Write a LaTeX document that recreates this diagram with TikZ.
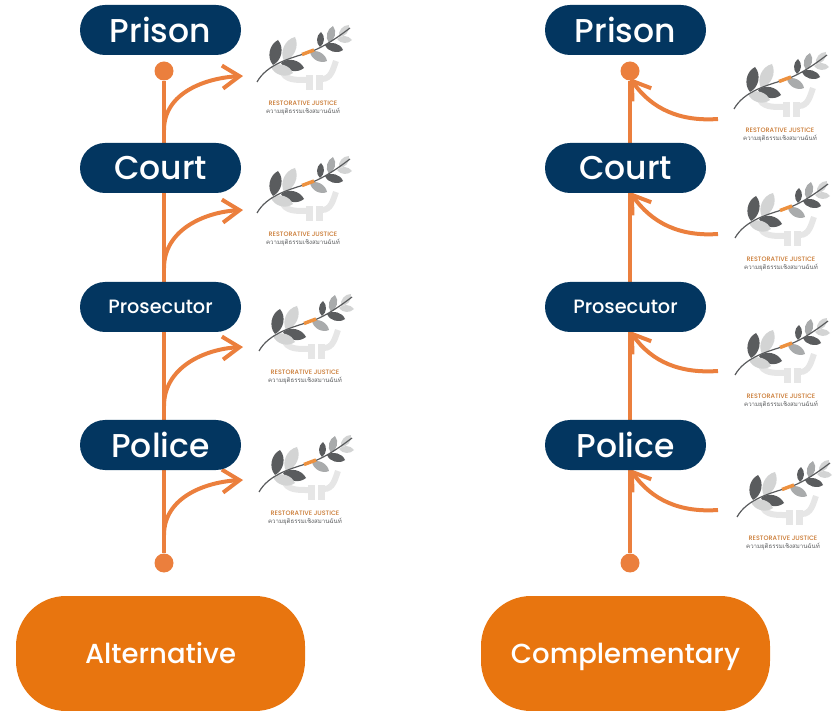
\documentclass[tikz,border=0pt]{standalone}
\usepackage{fontspec}
\setmainfont{Poppins Medium}
\newfontfamily\thaifont[Script=Thai]{Loma}
\usetikzlibrary{arrows.meta}
\definecolor{my-navy}{HTML}{033660}
\definecolor{my-orange}{HTML}{E8750F}
\definecolor{my-line}{HTML}{EB7F3D}
\definecolor{my-dark}{HTML}{5A5C5E}
\definecolor{my-mid}{HTML}{A9ABAC}
\definecolor{my-light}{HTML}{D3D4D4}
\definecolor{my-hand}{HTML}{E6E6E6}
\tikzset{
  stage/.style={fill=my-navy, text=white, rounded corners=25pt, minimum width=161pt, minimum height=50pt, inner sep=0pt},
  kind/.style={fill=my-orange, text=white, rounded corners=50pt, minimum width=289pt, minimum height=115pt, inner sep=0pt, text height=20pt, text depth=0pt, font=\fontsize{27.5}{30}\selectfont},
  dot/.style={circle, fill=my-line, minimum size=19pt, inner sep=0pt},
  track/.style={my-line, line width=4pt},
  branch/.style={my-line, line width=4pt, -{Straight Barb[length=17pt,width=23pt,line width=4pt]}},
  pics/rjlogo/.style={code={
    \def\leaf##1##2##3{\fill[##3] (##1) to[bend left=52] (##2) to[bend left=52] (##1);}
    % hands
    \draw[my-hand, line width=6pt] (-21,-31) to[out=-70,in=180] (3,-22);
    \draw[my-hand, line width=6pt] (33,-41) to[out=-110,in=0] (19,-23);
    \fill[my-hand] (3,-27) rectangle (10,-12);
    \fill[my-hand] (13,-27) rectangle (20,-12);
    % leaves
    \leaf{-30,-37}{-25,-62}{my-dark}
    \leaf{-19,-41}{-8,-65}{my-light}
    \leaf{-22,-39}{1,-34}{my-dark}
    \leaf{-32,-35}{-10,-29}{my-light}
    \leaf{7,-50}{24,-41}{my-mid}
    \leaf{17,-55}{18,-70}{my-dark}
    \leaf{26,-59}{30,-76}{my-mid}
    \leaf{22,-57}{40,-52}{my-dark}
    \leaf{36,-65}{46,-77}{my-light}
    \leaf{34,-63}{49,-62}{my-light}
    \draw[my-dark, line width=1.2pt] (-46,-20) .. controls (-36,-38) and (-12,-44) .. (4,-49) .. controls (20,-54) and (35,-65) .. (47,-74);
    \draw[my-orange!80, line width=3.5pt] (-1,-47.5) -- (11,-52);
    \node (rj) [inner sep=0pt, text=my-orange!70!gray, font=\fontsize{6.4}{7}\selectfont] at (0,1) {RESTORATIVE JUSTICE};
    \node (th) [inner sep=0pt, text=my-dark, font=\fontsize{6.1}{7}\thaifont] at (0,9.5) {ความยุติธรรมเชิงสมานฉันท์};
  }}
}
\begin{document}
\begin{tikzpicture}[x=1pt, y=-1pt]
  \useasboundingbox (0,0) rectangle (836,711);

  % left column
  \node[dot] (topL) at (164,71) {};
  \node[dot] (botL) at (164,563) {};
  \draw[track] (botL) -- (topL);
  \coordinate (armA) at (164,130);
  \coordinate (armB) at (164,268);
  \coordinate (armC) at (164,406);
  \coordinate (armD) at (164,535);
  \coordinate (tipA) at (243,76);
  \coordinate (tipB) at (243,210);
  \coordinate (tipC) at (243,347);
  \coordinate (tipD) at (243,480);
  \foreach \n in {A,B,C,D}
    \draw[branch] (arm\n) to[out=90,in=183] (tip\n);

  % right column
  \node[dot] (topR) at (630,71) {};
  \node[dot] (botR) at (630,563) {};
  \draw[track] (botR) -- (topR);
  \coordinate (srcA) at (718,119);
  \coordinate (srcB) at (718,234);
  \coordinate (srcC) at (718,371);
  \coordinate (srcD) at (718,510);
  \coordinate (endA) at (630,78);
  \coordinate (endB) at (630,192);
  \coordinate (endC) at (630,331);
  \coordinate (endD) at (630,469);
  \foreach \n in {A,B,C,D}
    \draw[branch] (src\n) to[out=184,in=-55] (end\n);

  % stages
  \node[stage, font=\fontsize{33}{36}\selectfont] (prisonL) at (160.5,30) {Prison};
  \node[stage, font=\fontsize{33}{36}\selectfont] (courtL) at (160.5,168) {Court};
  \node[stage, font=\fontsize{19.3}{20}\selectfont] (prosecutorL) at (160.5,307) {Prosecutor};
  \node[stage, font=\fontsize{33}{36}\selectfont] (policeL) at (160.5,445) {Police};
  \node[stage, font=\fontsize{33}{36}\selectfont] (prisonR) at (625.5,30) {Prison};
  \node[stage, font=\fontsize{33}{36}\selectfont] (courtR) at (625.5,168) {Court};
  \node[stage, font=\fontsize{19.3}{20}\selectfont] (prosecutorR) at (625.5,307) {Prosecutor};
  \node[stage, font=\fontsize{33}{36}\selectfont] (policeR) at (625.5,445) {Police};

  \node[kind] (alternative) at (160.5,653.5) {Alternative};
  \node[kind] (complementary) at (625.5,653.5) {Complementary};

  % logos
  \pic at (303,102) {rjlogo};
  \pic at (303,233) {rjlogo};
  \pic at (305,371) {rjlogo};
  \pic at (305,512) {rjlogo};
  \pic at (780,129) {rjlogo};
  \pic at (781,258) {rjlogo};
  \pic at (781,395) {rjlogo};
  \pic at (783,537) {rjlogo};
\end{tikzpicture}
\end{document}
